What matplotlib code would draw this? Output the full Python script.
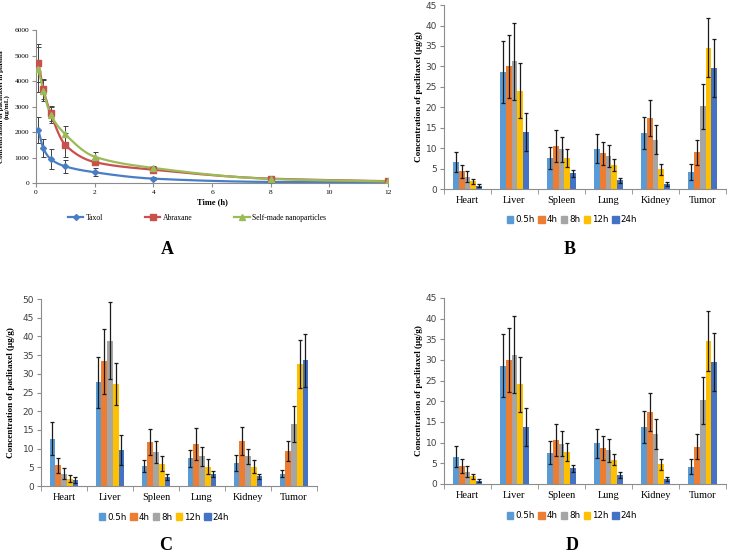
import numpy as np
import matplotlib
matplotlib.use("Agg")
import matplotlib.pyplot as plt
from matplotlib.lines import Line2D
from matplotlib.patches import Patch

# ---- panel A: plasma concentration (ng/mL) ----
time_h = [0.083, 0.25, 0.5, 1, 2, 4, 8, 12]
taxol = [2070, 1360, 940, 650, 420, 170, 40, 20]
taxol_err = [500, 350, 400, 270, 150, 60, 15, 8]
abraxane = [4710, 3690, 2730, 1490, 820, 520, 170, 70]
abraxane_err = [740, 410, 310, 470, 130, 90, 40, 15]
selfmade = [4460, 3620, 2680, 1910, 1030, 590, 160, 60]
selfmade_err = [880, 420, 320, 310, 180, 80, 30, 15]

# ---- panels B/C/D: tissue distribution (ug/g) ----
organs = ["Heart", "Liver", "Spleen", "Lung", "Kidney", "Tumor"]
times = ["0.5h", "4h", "8h", "12h", "24h"]
bar_colors = ["#5B9BD5", "#ED7D31", "#A5A5A5", "#FFC000", "#4472C4"]

b_vals = [[6.6, 28.6, 7.6, 9.9, 13.8, 4.2],
          [4.3, 30.0, 10.6, 8.7, 17.4, 9.0],
          [3.0, 31.3, 9.7, 8.1, 12.1, 20.2],
          [1.9, 24.1, 7.7, 5.9, 4.8, 34.6],
          [0.8, 13.9, 3.8, 2.1, 1.2, 29.6]]
b_errs = [[2.5, 7.6, 2.7, 3.5, 3.9, 1.9],
          [1.7, 7.7, 3.9, 2.9, 4.5, 3.0],
          [1.3, 9.4, 3.0, 2.7, 3.6, 5.6],
          [0.6, 6.7, 2.2, 1.4, 1.3, 7.3],
          [0.4, 4.6, 0.9, 0.7, 0.4, 7.0]]

c_vals = [[12.7, 27.7, 5.4, 7.4, 6.2, 3.3],
          [5.5, 33.4, 11.7, 11.3, 12.1, 9.4],
          [3.3, 38.9, 9.1, 7.9, 7.9, 16.6],
          [2.0, 27.2, 6.0, 5.2, 5.2, 32.7],
          [1.6, 9.6, 2.5, 3.2, 2.6, 33.6]]
c_errs = [[4.4, 6.9, 1.6, 2.2, 2.1, 1.0],
          [2.0, 8.7, 3.5, 4.3, 3.7, 2.6],
          [1.4, 10.4, 2.9, 2.5, 2.0, 4.8],
          [0.9, 5.6, 1.9, 2.0, 1.7, 6.4],
          [0.7, 4.0, 0.8, 0.9, 0.7, 7.1]]

SERIF = "Liberation Serif"
SANS = "DejaVu Sans"
AXCOL = "#8c8c8c"


def smooth(x, y, n=300):
    # monotone cubic (Fritsch-Carlson) curve through the points, for drawing only
    x = np.asarray(x, float)
    y = np.asarray(y, float)
    h = np.diff(x)
    d = np.diff(y) / h
    m = np.zeros_like(y)
    m[0], m[-1] = d[0], d[-1]
    for i in range(1, len(x) - 1):
        if d[i - 1] * d[i] > 0:
            w1 = 2 * h[i] + h[i - 1]
            w2 = h[i] + 2 * h[i - 1]
            m[i] = (w1 + w2) / (w1 / d[i - 1] + w2 / d[i])
    xs = np.linspace(x[0], x[-1], n)
    idx = np.clip(np.searchsorted(x, xs) - 1, 0, len(x) - 2)
    t = (xs - x[idx]) / h[idx]
    h00 = 2 * t**3 - 3 * t**2 + 1
    h10 = t**3 - 2 * t**2 + t
    h01 = -2 * t**3 + 3 * t**2
    h11 = t**3 - t**2
    ys = h00 * y[idx] + h10 * h[idx] * m[idx] + h01 * y[idx + 1] + h11 * h[idx] * m[idx + 1]
    return xs, ys


def style_axes(ax):
    for s in ["top", "right"]:
        ax.spines[s].set_visible(False)
    for s in ["left", "bottom"]:
        ax.spines[s].set_color(AXCOL)
        ax.spines[s].set_linewidth(0.8)
    ax.tick_params(color=AXCOL, length=3, width=0.8)


fig = plt.figure(figsize=(7.29, 5.54), dpi=100)

# ---------- A ----------
axA = fig.add_axes([0.0494, 0.6697, 0.483, 0.276])
series = [("Taxol", taxol, taxol_err, "#4A7EC4", "D", 3),
          ("Abraxane", abraxane, abraxane_err, "#C9504D", "s", 5),
          ("Self-made nanoparticles", selfmade, selfmade_err, "#9BBB59", "^", 5)]
handles = []
for name, vals, errs, col, mk, ms in series:
    xs, ys = smooth(time_h, vals)
    axA.plot(xs, ys, color=col, lw=1.6, zorder=3)
    axA.errorbar(time_h, vals, yerr=errs, fmt="none", ecolor="#404040",
                 elinewidth=0.7, capsize=1.8, capthick=0.7, zorder=2)
    axA.plot(time_h, vals, linestyle="none", marker=mk, ms=ms, color=col, zorder=4)
    handles.append(Line2D([0], [0], color=col, lw=1.6, marker=mk, ms=ms))
axA.set_xlim(0, 12)
axA.set_ylim(0, 6000)
axA.set_xticks(range(0, 13, 2))
axA.set_yticks(range(0, 6001, 1000))
style_axes(axA)
axA.tick_params(labelsize=5.3, pad=2)
for lab in axA.get_xticklabels() + axA.get_yticklabels():
    lab.set_fontfamily(SERIF)
axA.set_xlabel("Time (h)", fontsize=6, fontweight="bold", family=SERIF, labelpad=2)
axA.set_ylabel("Concentration of paclitaxel in plasma\n(ng/mL)", fontsize=5.0,
               fontweight="bold", family=SERIF, linespacing=1.0)
axA.yaxis.set_label_coords(-26 / 352, 0.5)
fig.legend(handles, [s[0] for s in series], loc="center", ncol=3,
           bbox_to_anchor=(197 / 729, 1 - 218 / 554), frameon=False,
           handlelength=2.0, handletextpad=0.3, columnspacing=5.5,
           prop={"family": SERIF, "size": 5.5})


# ---------- bar panels ----------
def bar_panel(rect, vals, errs, ymax, step, legend_center, label_dx):
    ax = fig.add_axes(rect)
    x = np.arange(len(organs))
    w = 0.125
    for i, t in enumerate(times):
        pos = x + (i - 2) * w
        ax.bar(pos, vals[i], width=w, color=bar_colors[i], zorder=2)
        ax.errorbar(pos, vals[i], yerr=errs[i], fmt="none", ecolor="#1a1a1a",
                    elinewidth=0.9, capsize=1.6, capthick=0.9, zorder=3)
    ax.set_xlim(-0.5, len(organs) - 0.5)
    ax.set_ylim(0, ymax)
    ax.set_yticks(np.arange(0, ymax + 0.1, step))
    ax.set_xticks(x)
    ax.set_xticklabels(organs, family=SERIF, fontsize=7.5)
    ax.set_xticks(np.arange(-0.5, len(organs)), minor=True)
    style_axes(ax)
    ax.tick_params(axis="x", which="major", length=0, pad=5)
    ax.tick_params(axis="x", which="minor", length=3.5, color=AXCOL)
    ax.tick_params(axis="y", labelsize=6.5, labelcolor="#404040", pad=2)
    ax.set_ylabel("Concentration of paclitaxel (\u03bcg/g)", fontsize=6.6,
                  fontweight="bold", family=SERIF)
    ax.yaxis.set_label_coords(label_dx, 0.5)
    hs = [Patch(color=c) for c in bar_colors]
    fig.legend(hs, times, loc="center", ncol=5, bbox_to_anchor=legend_center,
               frameon=False, handlelength=0.75, handleheight=0.75,
               handletextpad=0.25, columnspacing=0.35,
               prop={"family": SANS, "size": 6.3})
    return ax


bar_panel([0.609, 0.6588, 0.387, 0.332], b_vals, b_errs, 45, 5,
          (572 / 729, 1 - 220 / 554), -21 / 282)
bar_panel([0.0562, 0.1227, 0.3786, 0.3375], c_vals, c_errs, 50, 5,
          (164 / 729, 1 - 517 / 554), -26 / 276)
bar_panel([0.609, 0.1264, 0.387, 0.3357], b_vals, b_errs, 45, 5,
          (572 / 729, 1 - 516 / 554), -21 / 282)

for letter, (lx, ly) in {"A": (167, 250), "B": (570, 250),
                         "C": (166, 545), "D": (572, 545)}.items():
    fig.text(lx / 729, 1 - ly / 554, letter, ha="center", va="center",
             fontsize=13, fontweight="bold", family=SERIF)

fig.savefig("out.png", dpi=100)
